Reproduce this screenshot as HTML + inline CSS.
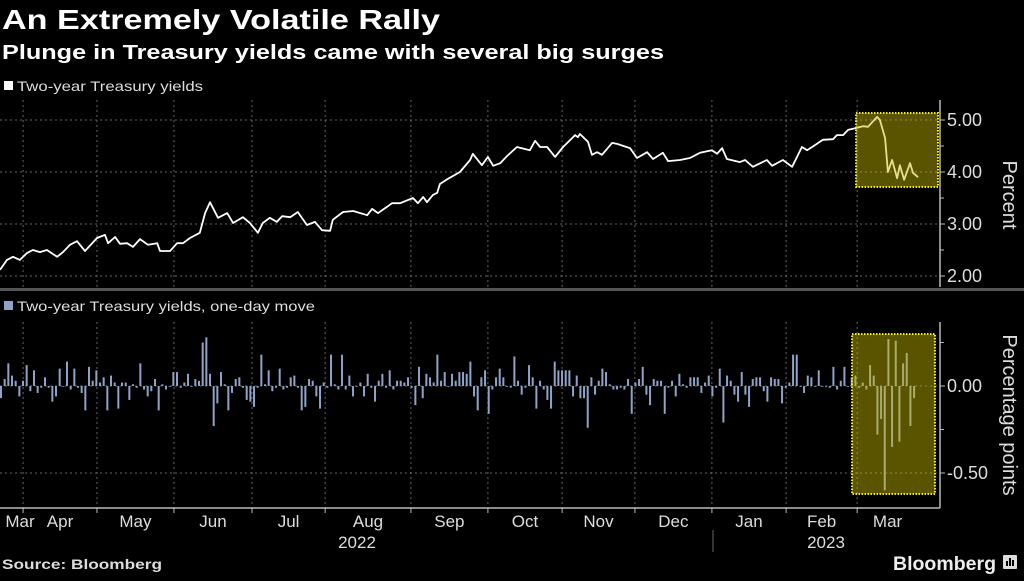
<!DOCTYPE html>
<html><head><meta charset="utf-8">
<style>
html,body{margin:0;padding:0;background:#000;}
body{width:1024px;height:576px;overflow:hidden;font-family:"Liberation Sans",sans-serif;color:#fff;}
</style></head>
<body>
<svg id="chart" width="1024" height="576" viewBox="0 0 1024 576" xmlns="http://www.w3.org/2000/svg">
<text x="2" y="29" font-size="28" font-weight="bold" fill="#fff" textLength="438" lengthAdjust="spacingAndGlyphs">An Extremely Volatile Rally</text>
<text x="2" y="59" font-size="20" font-weight="bold" fill="#fff" textLength="662" lengthAdjust="spacingAndGlyphs">Plunge in Treasury yields came with several big surges</text>
<rect x="4" y="81" width="9" height="9" fill="#fff"/>
<text x="17" y="91" font-size="14" fill="#ddd" textLength="186" lengthAdjust="spacingAndGlyphs">Two-year Treasury yields</text>
<rect x="4" y="301" width="9" height="9" fill="#8fa3c8"/>
<text x="17" y="311" font-size="14" fill="#ddd" textLength="298" lengthAdjust="spacingAndGlyphs">Two-year Treasury yields, one-day move</text>
<rect x="0" y="288" width="1024" height="3" fill="#555"/>
<g id="grid"></g>
<g id="topPanel"></g>
<g id="bottomPanel"></g>
<g id="axes"></g>
<text transform="translate(1003,195) rotate(90)" text-anchor="middle" font-size="20" fill="#ddd">Percent</text>
<text transform="translate(1003,415) rotate(90)" text-anchor="middle" font-size="20" fill="#ddd">Percentage points</text>
<line x1="713" y1="530" x2="713" y2="552" stroke="#666" stroke-width="1"/>
<text x="357" y="548" text-anchor="middle" font-size="17" fill="#ddd">2022</text>
<text x="826" y="548" text-anchor="middle" font-size="17" fill="#ddd">2023</text>
<text x="2" y="569" font-size="14" font-weight="bold" fill="#ddd" textLength="160" lengthAdjust="spacingAndGlyphs">Source: Bloomberg</text>
<text x="893" y="570" font-size="19" font-weight="bold" fill="#eee" textLength="103" lengthAdjust="spacingAndGlyphs">Bloomberg</text>
<g><rect x="1003" y="555" width="14" height="14" rx="1" fill="#ddd"/><rect x="1006" y="561" width="2" height="5" fill="#000"/><rect x="1009" y="558" width="2" height="8" fill="#000"/><rect x="1012" y="560" width="2" height="6" fill="#000"/></g>
</svg>
<script>
const lineDays=[0,2,3.7,5.7,7.7,9.4,11.4,13.4,16.3,18,20,22,24.3,27.7,30,30.9,32.9,34.3,36.3,38,40,42.3,44.9,45.7,48.6,50.6,52.3,54.3,57.1,58.6,60,62.3,64.9,66.6,69.4,71.4,73.7,75.1,77.1,79.1,80.6,82.9,85.1,87.7,90,92,94.3,95.1,98,100.9,104.9,106.3,108,110.6,112,114.3,118,119.4,120.9,122,123.7,124.9,125.7,128,131.4,134.3,135.1,137.7,139.4,140.9,142.9,144.9,147.7,151.4,152.9,154.3,156.3,158.6,160.9,164.3,165.1,165.7,168,169.1,170.6,172,174.9,176.3,180,182,184.9,186.6,189.4,190.9,194.3,197.1,200,203.4,204.9,206.3,207.7,211.4,212.9,215.1,219.1,220.6,223.7,226.3,229.1,230.6,232.9,235.1,238,239.1,240.9,242.3,244.9,246.6,248,250.6,251.4,252.9,253.7,254.9,256.3,257.1,258.3,260,260.9,262.3];
const lineYields=[2.12,2.31,2.37,2.31,2.44,2.50,2.46,2.50,2.37,2.46,2.60,2.67,2.48,2.73,2.79,2.63,2.75,2.62,2.63,2.56,2.71,2.60,2.63,2.48,2.48,2.63,2.63,2.73,2.83,3.21,3.42,3.12,3.21,3.02,3.13,3.02,2.83,3.02,3.12,3.04,3.15,3.13,3.23,2.98,3.04,2.88,2.87,3.08,3.23,3.25,3.17,3.29,3.21,3.33,3.40,3.40,3.50,3.40,3.52,3.42,3.56,3.60,3.77,3.87,4.00,4.23,4.35,4.13,4.29,4.12,4.17,4.31,4.48,4.42,4.60,4.48,4.48,4.29,4.48,4.71,4.67,4.73,4.58,4.33,4.38,4.33,4.56,4.54,4.46,4.27,4.38,4.25,4.37,4.21,4.23,4.27,4.37,4.42,4.35,4.46,4.25,4.19,4.23,4.10,4.23,4.12,4.23,4.10,4.48,4.42,4.52,4.62,4.63,4.71,4.71,4.81,4.85,4.88,4.87,5.06,5.00,4.65,4.00,4.23,3.88,4.13,3.85,4.17,3.98,3.90];
const dailyMoves=[-0.07,0.04,0.13,0.06,0.03,-0.06,0.03,0.12,-0.03,0.09,-0.04,-0.01,0.05,-0.01,-0.09,-0.06,0.10,0.00,0.14,-0.02,0.10,-0.01,-0.04,-0.14,0.11,0.03,0.09,0.02,0.05,-0.14,0.06,0.02,-0.13,0.02,0.02,-0.08,0.01,-0.01,0.13,-0.02,-0.06,-0.03,0.04,-0.14,0.01,-0.02,0,0.08,0.08,-0.01,0.02,0.07,0,0.04,0.03,0.25,0.28,0.07,-0.23,-0.10,0.08,0.01,-0.14,-0.04,0.04,0.05,-0.01,-0.08,-0.09,-0.12,-0.01,0.18,0.01,0.09,-0.03,-0.01,0.10,-0.02,-0.01,0.05,0.06,-0.01,-0.14,-0.12,0.04,0.03,-0.06,-0.13,0.02,-0.01,0.18,0.01,-0.02,0.18,-0.02,0.06,-0.06,0,0.02,-0.06,0.07,-0.01,-0.09,0.03,0.07,-0.01,0.09,-0.02,0.03,0.03,0.02,0.05,-0.01,-0.11,0.11,-0.07,0.07,0.05,0.02,0.18,0.03,0.08,0,0.07,0.03,0.08,0.08,0.07,0.14,-0.06,-0.14,0.05,0.09,-0.16,-0.02,0.05,0.10,0.05,0,
-0.01,0.17,0.03,-0.05,-0.01,0.12,0.05,-0.13,0.03,-0.02,-0.08,-0.13,0.14,0.09,0.09,0.09,0.09,-0.06,0.06,-0.07,-0.07,-0.24,0.05,-0.05,0.03,0.10,0.08,0.01,-0.02,-0.02,-0.01,-0.02,0.04,-0.16,0.02,0.04,0.11,-0.05,-0.11,0.04,0.03,0.03,-0.16,-0.01,0.03,-0.06,0.07,0.01,-0.01,0.05,0.05,0.05,-0.04,0.02,0.06,-0.06,-0.01,0.10,-0.21,0.06,0.03,-0.05,-0.09,0.08,-0.05,-0.12,0.04,0.05,0.05,-0.03,-0.09,0.05,0.04,0.04,-0.10,-0.01,0.02,0.18,0.18,0,-0.04,0.06,0.05,0,0.09,0,0,-0.01,0.11,-0.02,0.03,0.11,0,0.05,0.06,-0.01,0.02,-0.02,0.12,0.06,-0.28,-0.19,-0.60,0.27,-0.35,0.26,-0.32,0.13,0.19,-0.23,-0.07];
const topTicks=[5,4,3,2];
const topTickLabels=["5.00","4.00","3.00","2.00"];
const bottomTicks=[0,-0.5];
const bottomTickLabels=["0.00","-0.50"];
const monthLabels=["Mar","Apr","May","Jun","Jul","Aug","Sep","Oct","Nov","Dec","Jan","Feb","Mar"];
const monthStartDays=[-5.7,6.6,27.7,49.7,72,92.9,117.4,139.4,160.6,181.4,203.4,224.6,244.9];

const NS="http://www.w3.org/2000/svg";
const xLine=d=>d*3.5;
const yTop=v=>120+(5-v)*52;
const xBar=i=>1+i*3.667;
const yBot=v=>386-v*174;
function mk(tag,attrs,parent){const e=document.createElementNS(NS,tag);for(const k in attrs)e.setAttribute(k,attrs[k]);parent.appendChild(e);return e;}
const gridG=document.getElementById('grid'),topG=document.getElementById('topPanel'),botG=document.getElementById('bottomPanel'),axesG=document.getElementById('axes');

monthStartDays.forEach((d,i)=>{
  const x=xLine(d);
  if(i>0){
    const g1=mk('line',{x1:x,y1:100,x2:x,y2:287,stroke:'#666','stroke-width':1,'stroke-dasharray':'2,3'},gridG);
    
    
    const g2=mk('line',{x1:x,y1:322,x2:x,y2:508,stroke:'#666','stroke-width':1,'stroke-dasharray':'2,3'},gridG);
    
    
    const t=mk('line',{x1:x,y1:508,x2:x,y2:513,stroke:'#bbb','stroke-width':1},axesG);
    
    
  }
  const next=i<monthStartDays.length-1?xLine(monthStartDays[i+1]):918;
  const cx=i===0?20:(x+next)/2;
  const lab=mk('text',{x:cx,y:527,'text-anchor':'middle','font-size':17,fill:'#ddd'},axesG);
  lab.textContent=monthLabels[i];
  
  
});

topTicks.forEach((v,i)=>{
  const y=yTop(v);
  const g=mk('line',{x1:0,y1:y,x2:940,y2:y,stroke:'#666','stroke-width':1,'stroke-dasharray':'2,3'},gridG);
  
  
  const t=mk('line',{x1:940,y1:y,x2:945,y2:y,stroke:'#bbb'},axesG);
  
  
  const l=mk('text',{x:947,y:y+6,'font-size':18,fill:'#ddd'},axesG);
  l.textContent=topTickLabels[i];
  
  
  if(v>2){const m=mk('line',{x1:940,y1:yTop(v-0.5),x2:944,y2:yTop(v-0.5),stroke:'#bbb'},axesG);
    
    }
});
bottomTicks.forEach((v,i)=>{
  const y=yBot(v);
  const g=mk('line',{x1:0,y1:y,x2:940,y2:y,stroke:'#666','stroke-width':1,'stroke-dasharray':'2,3'},gridG);
  
  
  const t=mk('line',{x1:940,y1:y,x2:945,y2:y,stroke:'#bbb'},axesG);
  
  
  const l=mk('text',{x:947,y:y+6,'font-size':18,fill:'#ddd'},axesG);
  l.textContent=bottomTickLabels[i];
  
  
  const m=mk('line',{x1:940,y1:yBot(v+0.25),x2:944,y2:yBot(v+0.25),stroke:'#bbb'},axesG);
  
  
});
const a1=mk('line',{x1:940,y1:100,x2:940,y2:287,stroke:'#bbb','stroke-width':1.5},axesG);


const a2=mk('line',{x1:940,y1:322,x2:940,y2:508,stroke:'#bbb','stroke-width':1.5},axesG);


const a3=mk('line',{x1:0,y1:508,x2:940,y2:508,stroke:'#bbb','stroke-width':1.5},axesG);



const pts=lineDays.map((d,i)=>xLine(d).toFixed(1)+','+yTop(lineYields[i]).toFixed(1)).join(' ');
const pl=mk('polyline',{points:pts,fill:'none',stroke:'#fff','stroke-width':1.8,'stroke-linejoin':'round'},topG);



dailyMoves.forEach((v,i)=>{
  const x=xBar(i),y0=yBot(0),y1=yBot(v);
  const b=mk('rect',{x:x-1,y:Math.min(y0,y1),width:2,height:Math.max(0.8,Math.abs(y1-y0)),fill:'#8fa3c8'},botG);
  
  
});

const h1=mk('rect',{x:856,y:113,width:82,height:74,fill:'rgba(200,185,0,0.45)',stroke:'#f0f000','stroke-width':2,'stroke-dasharray':'1.5,1.5'},topG);


const h2=mk('rect',{x:852,y:334,width:83,height:160,fill:'rgba(200,185,0,0.45)',stroke:'#f0f000','stroke-width':2,'stroke-dasharray':'1.5,1.5'},botG);


</script>
</body></html>
